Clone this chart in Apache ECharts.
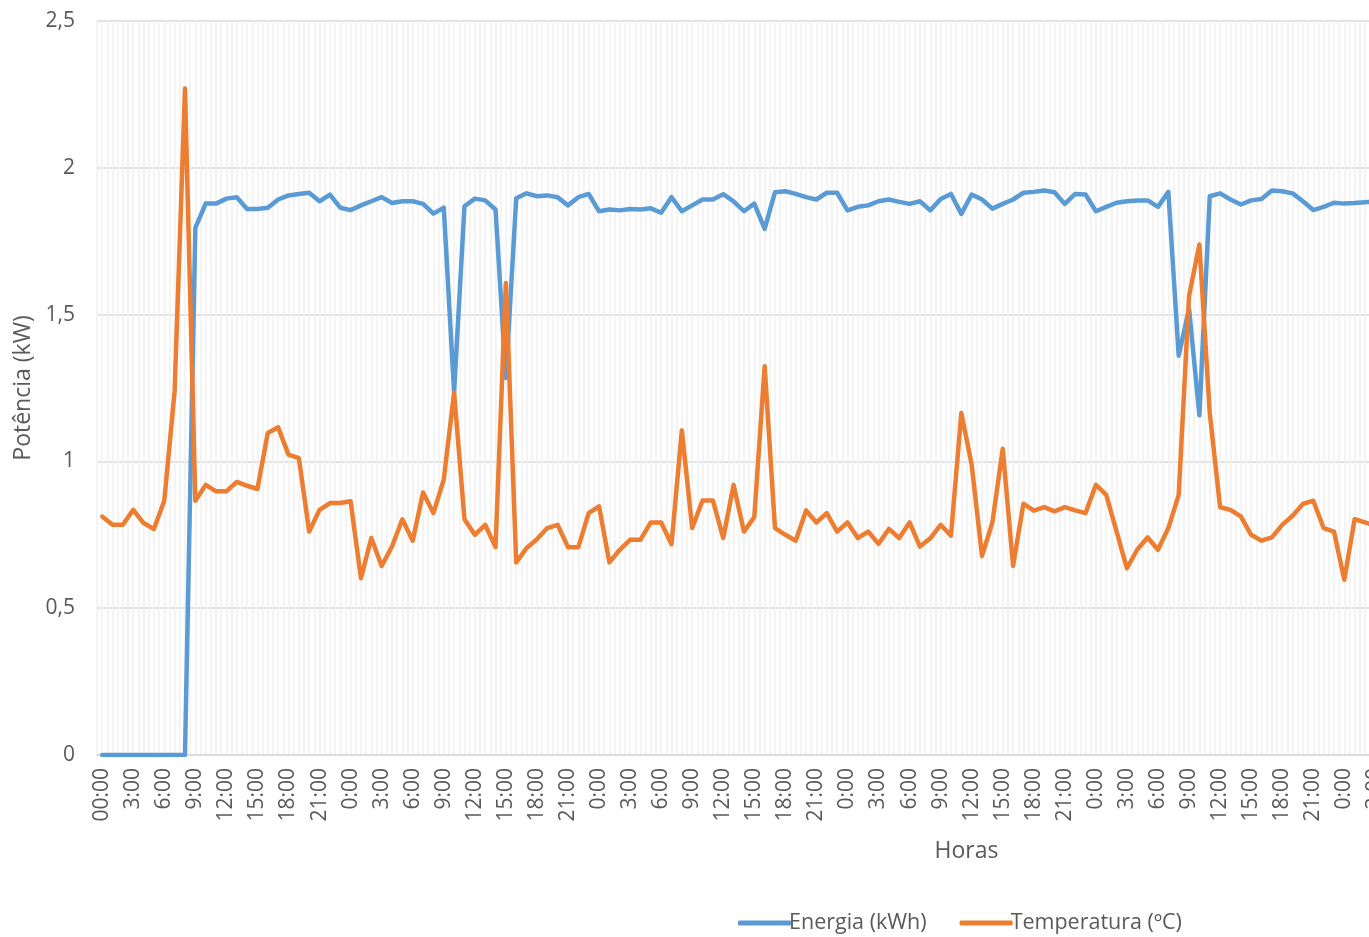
<!DOCTYPE html>
<html>
<head>
<meta charset="utf-8">
<script src="https://cdn.jsdelivr.net/npm/echarts@6/dist/echarts.min.js"></script>
<style>
  html, body { margin: 0; padding: 0; background: #fff; overflow: hidden; width: 1369px; height: 937px; }
  /* the week-long chart is wider than the window; the window shows its left part */
  #chart { width: 1900px; height: 937px; }
</style>
</head>
<body>
<div id="chart"></div>
<script>
// Hour labels of one day; the axis covers a full week of hourly readings.
const dayHours = ['0:00','1:00','2:00','3:00','4:00','5:00','6:00','7:00','8:00','9:00','10:00','11:00',
  '12:00','13:00','14:00','15:00','16:00','17:00','18:00','19:00','20:00','21:00','22:00','23:00'];
const days = 7;
const categories = [];
for (let d = 0; d < days; d++) dayHours.forEach(h => categories.push(h));
categories[0] = '00:00';

const yTicks = [0, 0.5, 1, 1.5, 2, 2.5];

// Energia (kWh), hourly
const energia = [
  0, 0, 0, 0, 0, 0, 0, 0, 0, 1.795,
  1.878, 1.878, 1.895, 1.90, 1.86, 1.86, 1.864, 1.892, 1.906, 1.911,
  1.915, 1.886, 1.909, 1.864, 1.856, 1.872, 1.886, 1.90, 1.88, 1.886,
  1.886, 1.877, 1.844, 1.864, 1.235, 1.869, 1.895, 1.889, 1.858, 1.284,
  1.896, 1.913, 1.903, 1.906, 1.90, 1.872, 1.90, 1.911, 1.852, 1.858,
  1.855, 1.86, 1.858, 1.862, 1.847, 1.90, 1.852, 1.872, 1.892, 1.892,
  1.910, 1.886, 1.852, 1.878, 1.792, 1.917, 1.92, 1.911, 1.90, 1.892,
  1.915, 1.915, 1.855, 1.867, 1.872, 1.886, 1.892, 1.884, 1.877, 1.886,
  1.855, 1.894, 1.911, 1.843, 1.909, 1.892, 1.861, 1.877, 1.892, 1.915,
  1.918, 1.923, 1.917, 1.877, 1.911, 1.909, 1.852, 1.867, 1.881, 1.886,
  1.889, 1.889, 1.867, 1.918, 1.36, 1.52, 1.157, 1.903, 1.913, 1.892,
  1.875, 1.889, 1.894, 1.923, 1.92, 1.913, 1.886, 1.856, 1.867, 1.881,
  1.878, 1.88, 1.883, 1.885
];

// Temperatura (ºC), hourly
const temperatura = [
  0.812, 0.784, 0.784, 0.835, 0.79, 0.77, 0.866, 1.24, 2.27, 0.866,
  0.92, 0.898, 0.898, 0.93, 0.917, 0.906, 1.097, 1.116, 1.023, 1.011,
  0.761, 0.835, 0.858, 0.858, 0.864, 0.602, 0.739, 0.644, 0.71, 0.803,
  0.73, 0.894, 0.824, 0.938, 1.235, 0.803, 0.75, 0.784, 0.708, 1.608,
  0.656, 0.705, 0.735, 0.773, 0.784, 0.708, 0.708, 0.824, 0.847, 0.656,
  0.699, 0.733, 0.733, 0.792, 0.792, 0.718, 1.105, 0.773, 0.867, 0.867,
  0.739, 0.92, 0.761, 0.81, 1.324, 0.773, 0.75, 0.73, 0.833, 0.792,
  0.824, 0.761, 0.792, 0.739, 0.761, 0.719, 0.77, 0.739, 0.792, 0.71,
  0.738, 0.784, 0.747, 1.165, 0.989, 0.678, 0.792, 1.043, 0.644, 0.856,
  0.832, 0.844, 0.83, 0.844, 0.833, 0.824, 0.92, 0.886, 0.761, 0.636,
  0.70, 0.741, 0.699, 0.773, 0.886, 1.563, 1.739, 1.165, 0.844, 0.835,
  0.813, 0.75, 0.73, 0.741, 0.784, 0.815, 0.855, 0.866, 0.773, 0.761,
  0.597, 0.803, 0.792, 0.78
];

const FONT = '"Open Sans", "Noto Sans", sans-serif';
const TEXT = '#595959';
const fmtDecimal = v => String(v).replace('.', ',');

const chart = echarts.init(document.getElementById('chart'), null, { renderer: 'canvas' });
chart.setOption({
  animation: false,
  backgroundColor: '#ffffff',
  textStyle: { fontFamily: FONT },
  grid: { left: 97, top: 21, bottom: 182, right: 64, containLabel: false },
  legend: {
    left: 733, top: 907,
    itemWidth: 53, itemHeight: 5, itemGap: 33,
    icon: 'roundRect',
    textStyle: { fontFamily: FONT, fontSize: 21.5, color: TEXT, padding: [0, 0, 0, -7] },
    data: ['Energia (kWh)', 'Temperatura (ºC)']
  },
  xAxis: [
    {
      type: 'category',
      data: categories,
      boundaryGap: true,
      name: 'Horas',
      nameLocation: 'middle',
      nameGap: 85,
      nameTextStyle: { fontFamily: FONT, fontSize: 23, color: TEXT },
      axisLine: { show: true, lineStyle: { color: '#d9d9d9', width: 1.5 } },
      axisTick: { show: false },
      splitLine: { show: false },
      axisLabel: {
        interval: 2, rotate: 90, margin: 13,
        fontFamily: FONT, fontSize: 21, color: TEXT
      }
    },
    {
      // fine half-hour grid behind the lines
      type: 'value',
      min: 0, max: categories.length * 2, interval: 1,
      position: 'bottom',
      axisLine: { show: false }, axisTick: { show: false }, axisLabel: { show: false },
      splitLine: { show: true, lineStyle: { color: '#f0f0f0', width: 1.5 } },
      z: 0
    }
  ],
  yAxis: {
    type: 'value',
    min: 0, max: 2.5, interval: 0.5,
    name: 'Potência (kW)',
    nameLocation: 'middle',
    nameGap: 62,
    nameTextStyle: { fontFamily: FONT, fontSize: 23, color: TEXT },
    axisLine: { show: false },
    axisTick: { show: false },
    axisLabel: {
      margin: 22, fontFamily: FONT, fontSize: 21, color: TEXT,
      formatter: v => yTicks.includes(v) ? fmtDecimal(v) : ''
    },
    splitLine: { show: true, lineStyle: { color: '#d9d9d9', width: 1.5 } }
  },
  series: [
    {
      name: 'Energia (kWh)',
      type: 'line',
      data: energia,
      showSymbol: false,
      symbol: 'none',
      color: '#5B9BD5',
      lineStyle: { width: 4.5, color: '#5B9BD5', join: 'round', cap: 'round' },
      z: 3
    },
    {
      name: 'Temperatura (ºC)',
      type: 'line',
      data: temperatura,
      showSymbol: false,
      symbol: 'none',
      color: '#ED7D31',
      lineStyle: { width: 4.5, color: '#ED7D31', join: 'round', cap: 'round' },
      z: 4
    }
  ]
});
</script>
</body>
</html>
